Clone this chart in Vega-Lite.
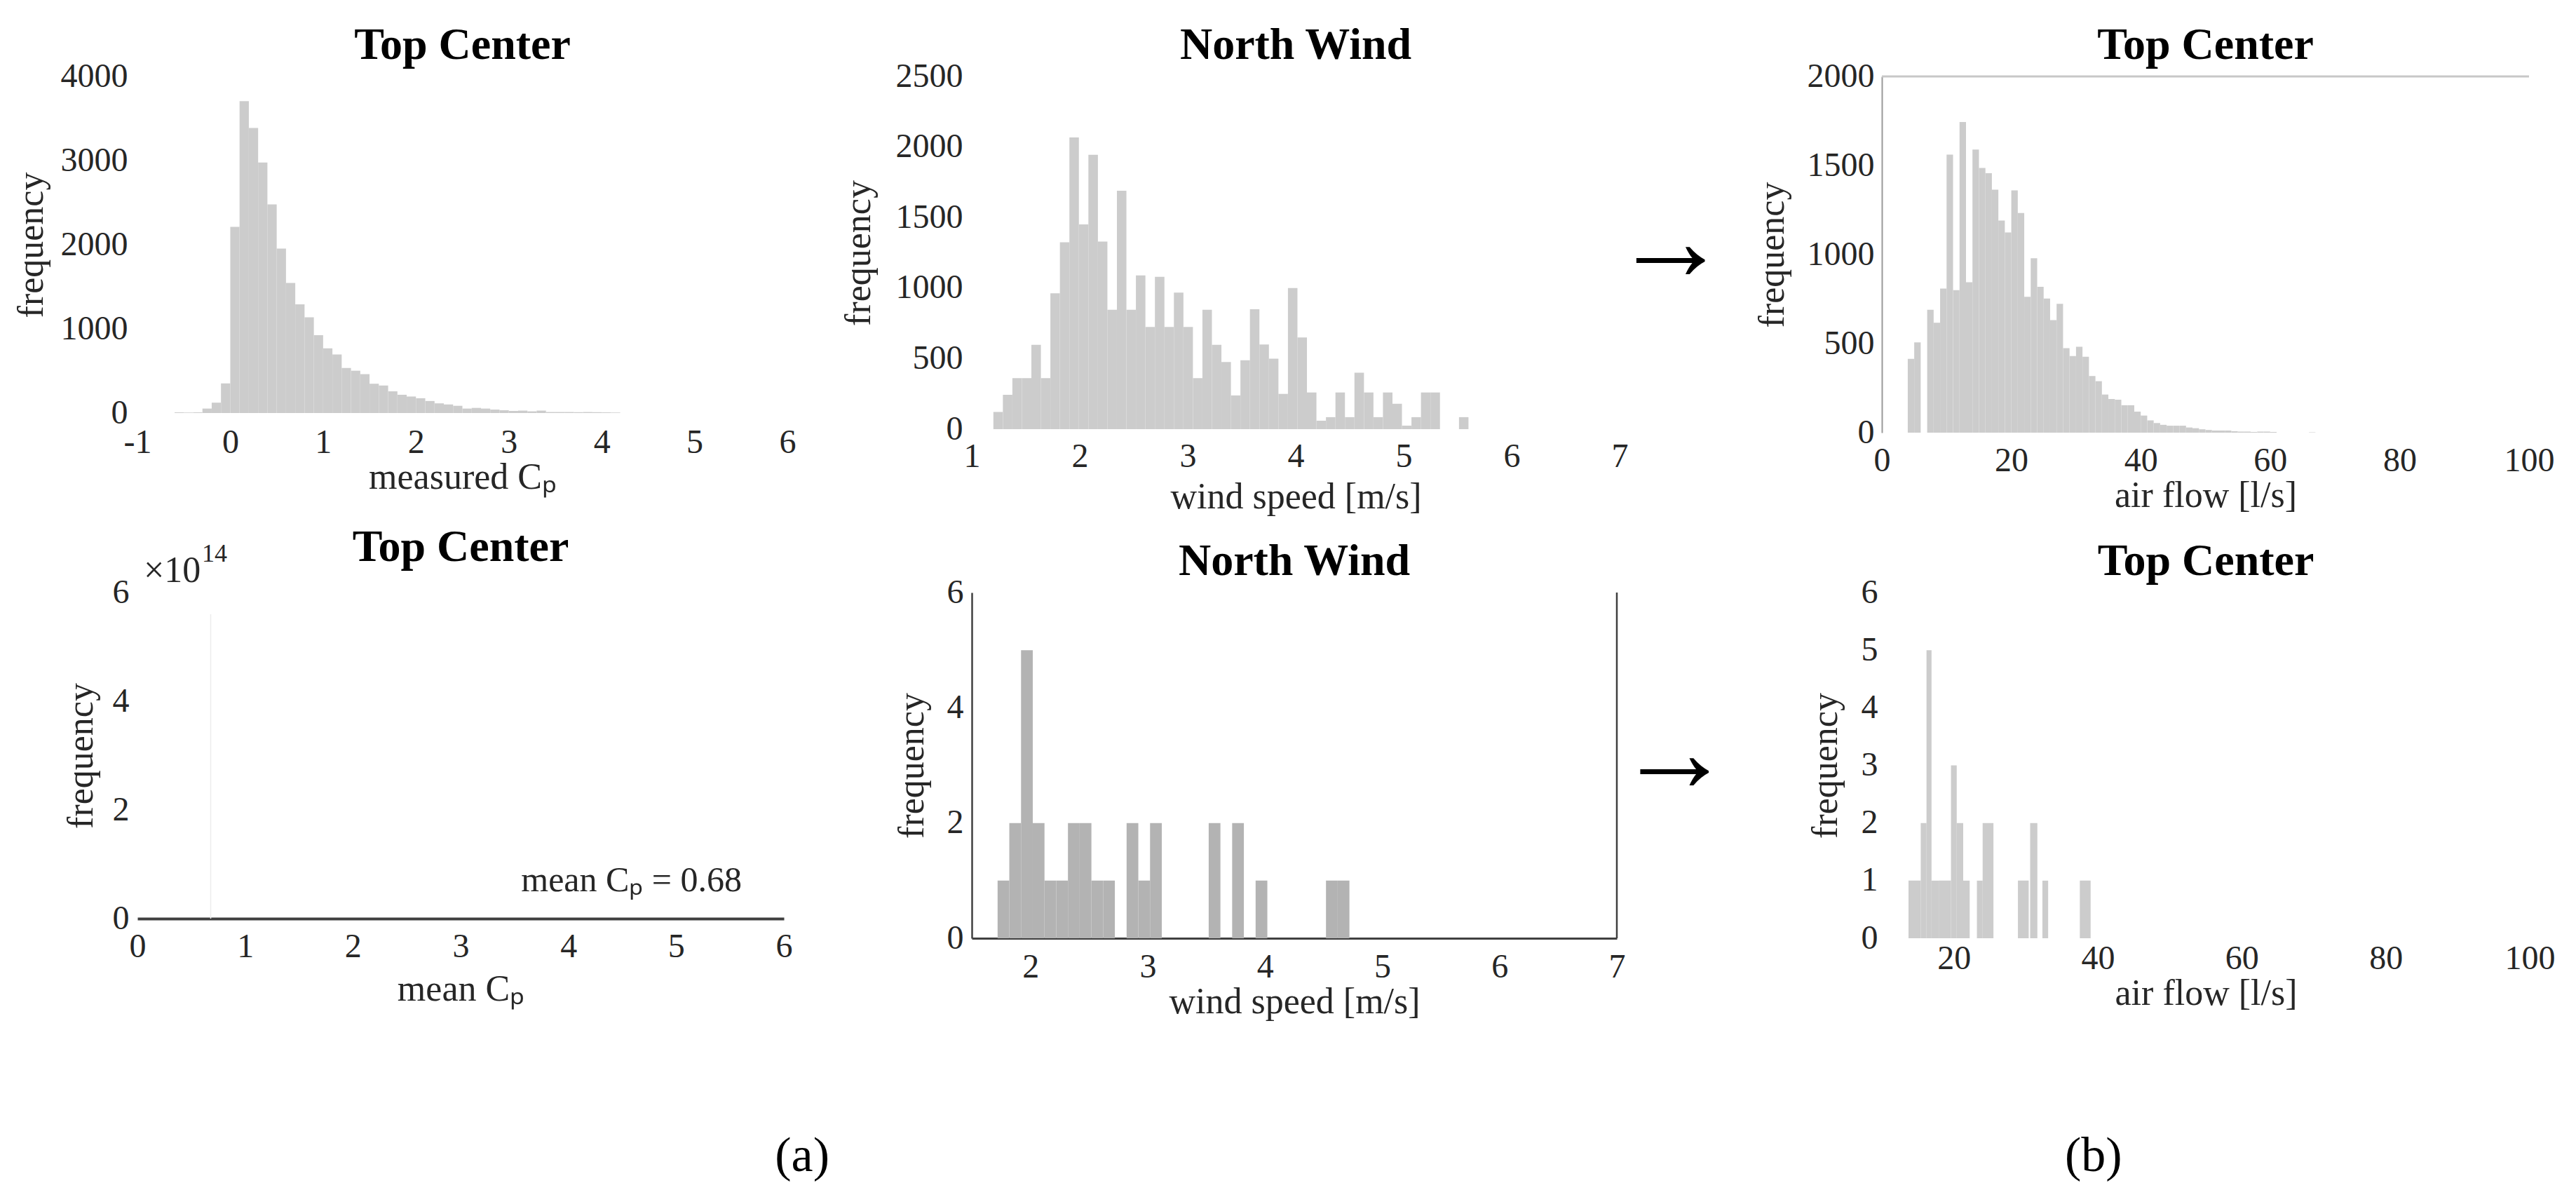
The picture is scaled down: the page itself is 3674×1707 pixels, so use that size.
{
  "$schema": "https://vega.github.io/schema/vega-lite/v6.json",
  "background": "white",
  "padding": {"left": 18, "top": 33, "right": 0, "bottom": 0},
  "datasets": {
    "cp": [
      {"bin_start": -0.6, "bin_end": -0.5, "count": 8},
      {"bin_start": -0.5, "bin_end": -0.4, "count": 6},
      {"bin_start": -0.4, "bin_end": -0.3, "count": 8},
      {"bin_start": -0.3, "bin_end": -0.2, "count": 53},
      {"bin_start": -0.2, "bin_end": -0.1, "count": 123},
      {"bin_start": -0.1, "bin_end": 0.0, "count": 352},
      {"bin_start": 0.0, "bin_end": 0.1, "count": 2213},
      {"bin_start": 0.1, "bin_end": 0.2, "count": 3706},
      {"bin_start": 0.2, "bin_end": 0.3, "count": 3387},
      {"bin_start": 0.3, "bin_end": 0.4, "count": 2978},
      {"bin_start": 0.4, "bin_end": 0.5, "count": 2479},
      {"bin_start": 0.5, "bin_end": 0.6, "count": 1955},
      {"bin_start": 0.6, "bin_end": 0.7, "count": 1546},
      {"bin_start": 0.7, "bin_end": 0.8, "count": 1292},
      {"bin_start": 0.8, "bin_end": 0.9, "count": 1137},
      {"bin_start": 0.9, "bin_end": 1.0, "count": 924},
      {"bin_start": 1.0, "bin_end": 1.1, "count": 769},
      {"bin_start": 1.1, "bin_end": 1.2, "count": 695},
      {"bin_start": 1.2, "bin_end": 1.3, "count": 536},
      {"bin_start": 1.3, "bin_end": 1.4, "count": 503},
      {"bin_start": 1.4, "bin_end": 1.5, "count": 462},
      {"bin_start": 1.5, "bin_end": 1.6, "count": 348},
      {"bin_start": 1.6, "bin_end": 1.7, "count": 327},
      {"bin_start": 1.7, "bin_end": 1.8, "count": 258},
      {"bin_start": 1.8, "bin_end": 1.9, "count": 217},
      {"bin_start": 1.9, "bin_end": 2.0, "count": 196},
      {"bin_start": 2.0, "bin_end": 2.1, "count": 176},
      {"bin_start": 2.1, "bin_end": 2.2, "count": 143},
      {"bin_start": 2.2, "bin_end": 2.3, "count": 115},
      {"bin_start": 2.3, "bin_end": 2.4, "count": 102},
      {"bin_start": 2.4, "bin_end": 2.5, "count": 86},
      {"bin_start": 2.5, "bin_end": 2.6, "count": 53},
      {"bin_start": 2.6, "bin_end": 2.7, "count": 61},
      {"bin_start": 2.7, "bin_end": 2.8, "count": 53},
      {"bin_start": 2.8, "bin_end": 2.9, "count": 41},
      {"bin_start": 2.9, "bin_end": 3.0, "count": 33},
      {"bin_start": 3.0, "bin_end": 3.1, "count": 25},
      {"bin_start": 3.1, "bin_end": 3.2, "count": 29},
      {"bin_start": 3.2, "bin_end": 3.3, "count": 20},
      {"bin_start": 3.3, "bin_end": 3.4, "count": 29},
      {"bin_start": 3.4, "bin_end": 3.5, "count": 12},
      {"bin_start": 3.5, "bin_end": 3.6, "count": 12},
      {"bin_start": 3.6, "bin_end": 3.7, "count": 12},
      {"bin_start": 3.7, "bin_end": 3.8, "count": 10},
      {"bin_start": 3.8, "bin_end": 3.9, "count": 12},
      {"bin_start": 3.9, "bin_end": 4.0, "count": 10},
      {"bin_start": 4.0, "bin_end": 4.1, "count": 8},
      {"bin_start": 4.1, "bin_end": 4.2, "count": 6}
    ],
    "wind": [
      {"bin_start": 1.200, "bin_end": 1.288, "count": 122},
      {"bin_start": 1.288, "bin_end": 1.376, "count": 244},
      {"bin_start": 1.376, "bin_end": 1.464, "count": 361},
      {"bin_start": 1.464, "bin_end": 1.552, "count": 361},
      {"bin_start": 1.552, "bin_end": 1.640, "count": 598},
      {"bin_start": 1.640, "bin_end": 1.728, "count": 361},
      {"bin_start": 1.728, "bin_end": 1.816, "count": 963},
      {"bin_start": 1.816, "bin_end": 1.904, "count": 1324},
      {"bin_start": 1.904, "bin_end": 1.992, "count": 2068},
      {"bin_start": 1.992, "bin_end": 2.080, "count": 1451},
      {"bin_start": 2.080, "bin_end": 2.168, "count": 1944},
      {"bin_start": 2.168, "bin_end": 2.256, "count": 1329},
      {"bin_start": 2.256, "bin_end": 2.344, "count": 846},
      {"bin_start": 2.344, "bin_end": 2.432, "count": 1690},
      {"bin_start": 2.432, "bin_end": 2.520, "count": 846},
      {"bin_start": 2.520, "bin_end": 2.608, "count": 1090},
      {"bin_start": 2.608, "bin_end": 2.696, "count": 724},
      {"bin_start": 2.696, "bin_end": 2.784, "count": 1080},
      {"bin_start": 2.784, "bin_end": 2.872, "count": 724},
      {"bin_start": 2.872, "bin_end": 2.960, "count": 968},
      {"bin_start": 2.960, "bin_end": 3.048, "count": 724},
      {"bin_start": 3.048, "bin_end": 3.136, "count": 361},
      {"bin_start": 3.136, "bin_end": 3.224, "count": 846},
      {"bin_start": 3.224, "bin_end": 3.312, "count": 598},
      {"bin_start": 3.312, "bin_end": 3.400, "count": 476},
      {"bin_start": 3.400, "bin_end": 3.488, "count": 239},
      {"bin_start": 3.488, "bin_end": 3.576, "count": 488},
      {"bin_start": 3.576, "bin_end": 3.664, "count": 850},
      {"bin_start": 3.664, "bin_end": 3.752, "count": 600},
      {"bin_start": 3.752, "bin_end": 3.840, "count": 500},
      {"bin_start": 3.840, "bin_end": 3.928, "count": 250},
      {"bin_start": 3.928, "bin_end": 4.016, "count": 1000},
      {"bin_start": 4.016, "bin_end": 4.104, "count": 650},
      {"bin_start": 4.104, "bin_end": 4.192, "count": 260},
      {"bin_start": 4.192, "bin_end": 4.280, "count": 60},
      {"bin_start": 4.280, "bin_end": 4.368, "count": 85},
      {"bin_start": 4.368, "bin_end": 4.456, "count": 260},
      {"bin_start": 4.456, "bin_end": 4.544, "count": 85},
      {"bin_start": 4.544, "bin_end": 4.632, "count": 400},
      {"bin_start": 4.632, "bin_end": 4.720, "count": 260},
      {"bin_start": 4.720, "bin_end": 4.808, "count": 85},
      {"bin_start": 4.808, "bin_end": 4.896, "count": 260},
      {"bin_start": 4.896, "bin_end": 4.984, "count": 180},
      {"bin_start": 4.984, "bin_end": 5.072, "count": 25},
      {"bin_start": 5.072, "bin_end": 5.160, "count": 85},
      {"bin_start": 5.160, "bin_end": 5.248, "count": 260},
      {"bin_start": 5.248, "bin_end": 5.336, "count": 260},
      {"bin_start": 5.512, "bin_end": 5.600, "count": 85}
    ],
    "airflow": [
      {"bin_start": 4, "bin_end": 5, "count": 414},
      {"bin_start": 5, "bin_end": 6, "count": 507},
      {"bin_start": 7, "bin_end": 8, "count": 690},
      {"bin_start": 8, "bin_end": 9, "count": 617},
      {"bin_start": 9, "bin_end": 10, "count": 809},
      {"bin_start": 10, "bin_end": 11, "count": 1561},
      {"bin_start": 11, "bin_end": 12, "count": 800},
      {"bin_start": 12, "bin_end": 13, "count": 1744},
      {"bin_start": 13, "bin_end": 14, "count": 844},
      {"bin_start": 14, "bin_end": 15, "count": 1590},
      {"bin_start": 15, "bin_end": 16, "count": 1486},
      {"bin_start": 16, "bin_end": 17, "count": 1457},
      {"bin_start": 17, "bin_end": 18, "count": 1364},
      {"bin_start": 18, "bin_end": 19, "count": 1191},
      {"bin_start": 19, "bin_end": 20, "count": 1124},
      {"bin_start": 20, "bin_end": 21, "count": 1360},
      {"bin_start": 21, "bin_end": 22, "count": 1233},
      {"bin_start": 22, "bin_end": 23, "count": 763},
      {"bin_start": 23, "bin_end": 24, "count": 979},
      {"bin_start": 24, "bin_end": 25, "count": 819},
      {"bin_start": 25, "bin_end": 26, "count": 753},
      {"bin_start": 26, "bin_end": 27, "count": 632},
      {"bin_start": 27, "bin_end": 28, "count": 723},
      {"bin_start": 28, "bin_end": 29, "count": 474},
      {"bin_start": 29, "bin_end": 30, "count": 430},
      {"bin_start": 30, "bin_end": 31, "count": 482},
      {"bin_start": 31, "bin_end": 32, "count": 426},
      {"bin_start": 32, "bin_end": 33, "count": 318},
      {"bin_start": 33, "bin_end": 34, "count": 289},
      {"bin_start": 34, "bin_end": 35, "count": 214},
      {"bin_start": 35, "bin_end": 36, "count": 189},
      {"bin_start": 36, "bin_end": 37, "count": 185},
      {"bin_start": 37, "bin_end": 38, "count": 154},
      {"bin_start": 38, "bin_end": 39, "count": 154},
      {"bin_start": 39, "bin_end": 40, "count": 118},
      {"bin_start": 40, "bin_end": 41, "count": 96},
      {"bin_start": 41, "bin_end": 42, "count": 69},
      {"bin_start": 42, "bin_end": 43, "count": 54},
      {"bin_start": 43, "bin_end": 44, "count": 44},
      {"bin_start": 44, "bin_end": 45, "count": 39},
      {"bin_start": 45, "bin_end": 46, "count": 39},
      {"bin_start": 46, "bin_end": 47, "count": 39},
      {"bin_start": 47, "bin_end": 48, "count": 29},
      {"bin_start": 48, "bin_end": 49, "count": 25},
      {"bin_start": 49, "bin_end": 50, "count": 19},
      {"bin_start": 50, "bin_end": 51, "count": 15},
      {"bin_start": 51, "bin_end": 52, "count": 12},
      {"bin_start": 52, "bin_end": 53, "count": 12},
      {"bin_start": 53, "bin_end": 54, "count": 12},
      {"bin_start": 54, "bin_end": 55, "count": 8},
      {"bin_start": 55, "bin_end": 56, "count": 6},
      {"bin_start": 56, "bin_end": 57, "count": 6},
      {"bin_start": 57, "bin_end": 58, "count": 4},
      {"bin_start": 58, "bin_end": 59, "count": 6},
      {"bin_start": 59, "bin_end": 60, "count": 6},
      {"bin_start": 60, "bin_end": 61, "count": 4},
      {"bin_start": 66, "bin_end": 67, "count": 2}
    ],
    "meancp": [
      {"bin_start": 0.675, "bin_end": 0.685, "count": 560000000000000}
    ],
    "wind_sub": [
      {"bin_start": 1.72, "bin_end": 1.82, "count": 1},
      {"bin_start": 1.82, "bin_end": 1.92, "count": 2},
      {"bin_start": 1.92, "bin_end": 2.02, "count": 5},
      {"bin_start": 2.02, "bin_end": 2.12, "count": 2},
      {"bin_start": 2.12, "bin_end": 2.22, "count": 1},
      {"bin_start": 2.22, "bin_end": 2.32, "count": 1},
      {"bin_start": 2.32, "bin_end": 2.42, "count": 2},
      {"bin_start": 2.42, "bin_end": 2.52, "count": 2},
      {"bin_start": 2.52, "bin_end": 2.62, "count": 1},
      {"bin_start": 2.62, "bin_end": 2.72, "count": 1},
      {"bin_start": 2.82, "bin_end": 2.92, "count": 2},
      {"bin_start": 2.92, "bin_end": 3.02, "count": 1},
      {"bin_start": 3.02, "bin_end": 3.12, "count": 2},
      {"bin_start": 3.52, "bin_end": 3.62, "count": 2},
      {"bin_start": 3.72, "bin_end": 3.82, "count": 2},
      {"bin_start": 3.92, "bin_end": 4.02, "count": 1},
      {"bin_start": 4.52, "bin_end": 4.62, "count": 1},
      {"bin_start": 4.62, "bin_end": 4.72, "count": 1}
    ],
    "airflow_sub": [
      {"bin_start": 13.7, "bin_end": 15.4, "count": 1},
      {"bin_start": 15.4, "bin_end": 16.2, "count": 2},
      {"bin_start": 16.2, "bin_end": 16.9, "count": 5},
      {"bin_start": 16.9, "bin_end": 17.9, "count": 1},
      {"bin_start": 17.9, "bin_end": 19.6, "count": 1},
      {"bin_start": 19.6, "bin_end": 20.4, "count": 3},
      {"bin_start": 20.4, "bin_end": 21.3, "count": 2},
      {"bin_start": 21.3, "bin_end": 22.2, "count": 1},
      {"bin_start": 23.2, "bin_end": 24.0, "count": 1},
      {"bin_start": 24.0, "bin_end": 25.5, "count": 2},
      {"bin_start": 28.9, "bin_end": 30.4, "count": 1},
      {"bin_start": 30.6, "bin_end": 31.6, "count": 2},
      {"bin_start": 32.3, "bin_end": 33.1, "count": 1},
      {"bin_start": 37.5, "bin_end": 39.0, "count": 1}
    ]
  },
  "columns": 5,
  "spacing": {"row": 228, "column": 0},
  "bounds": "flush",
  "concat": [
    {
      "width": 927,
      "height": 480,
      "title": "Top Center",
      "data": {"name": "cp"},
      "mark": {"type": "bar", "color": "#cccccc"},
      "encoding": {
        "x": {"field": "bin_start", "type": "quantitative", "scale": {"domain": [-1, 6], "nice": false, "zero": false},
              "axis": {"title": "measured Cₚ", "values": [-1, 0, 1, 2, 3, 4, 5, 6], "labelExpr": "'' + datum.value", "labelPadding": 18, "titlePadding": 0}},
        "x2": {"field": "bin_end"},
        "y": {"field": "count", "type": "quantitative", "scale": {"domain": [0, 4000], "nice": false},
              "axis": {"title": "frequency", "values": [0, 1000, 2000, 3000, 4000], "labelExpr": "'' + datum.value", "labelPadding": 14, "titlePadding": 15}},
        "y2": {"datum": 0}
      }
    },
    {
      "width": 263,
      "height": 10,
      "data": {"values": [{}]},
      "mark": {"type": "text", "text": ""}
    },
    {
      "width": 924,
      "height": 503,
      "title": "North Wind",
      "layer": [
        {
          "data": {"name": "wind"},
          "mark": {"type": "bar", "color": "#cccccc"},
          "encoding": {
            "x": {"field": "bin_start", "type": "quantitative", "scale": {"domain": [1, 7], "nice": false, "zero": false},
                  "axis": {"title": "wind speed [m/s]", "values": [1, 2, 3, 4, 5, 6, 7], "labelExpr": "'' + datum.value", "labelPadding": 15, "titlePadding": 8}},
            "x2": {"field": "bin_end"},
            "y": {"field": "count", "type": "quantitative", "scale": {"domain": [0, 2500], "nice": false},
                  "axis": {"title": "frequency", "values": [0, 500, 1000, 1500, 2000, 2500], "labelExpr": "'' + datum.value", "labelPadding": 13, "titlePadding": 26}},
            "y2": {"datum": 0}
          }
        },
        {
          "data": {"values": [{}]},
          "mark": {"type": "text", "text": "→", "font": "Liberation Serif", "fontSize": 165, "color": "#000000"},
          "encoding": {"x": {"datum": 7.47}, "y": {"datum": 1307}}
        }
      ]
    },
    {
      "width": 374,
      "height": 10,
      "data": {"values": [{}]},
      "mark": {"type": "text", "text": ""}
    },
    {
      "width": 923,
      "height": 508,
      "title": "Top Center",
      "layer": [
        {
          "data": {"name": "airflow"},
          "mark": {"type": "bar", "color": "#cccccc"},
          "encoding": {
            "x": {"field": "bin_start", "type": "quantitative", "scale": {"domain": [0, 100], "nice": false},
                  "axis": {"title": "air flow [l/s]", "values": [0, 20, 40, 60, 80, 100], "labelExpr": "'' + datum.value", "labelPadding": 16, "titlePadding": 0}},
            "x2": {"field": "bin_end"},
            "y": {"field": "count", "type": "quantitative", "scale": {"domain": [0, 2000], "nice": false},
                  "axis": {"title": "frequency", "values": [0, 500, 1000, 1500, 2000], "labelExpr": "'' + datum.value", "labelPadding": 11, "titlePadding": 23, "domain": true, "domainColor": "#9a9a9a", "domainWidth": 2}},
            "y2": {"datum": 0}
          }
        },
        {
          "data": {"values": [{}]},
          "mark": {"type": "rule", "color": "#c8c8c8", "strokeWidth": 3},
          "encoding": {"x": {"datum": 0}, "x2": {"datum": 100}, "y": {"datum": 2000}}
        }
      ]
    },
    {
      "width": 922,
      "height": 465,
      "title": {"text": "Top Center", "offset": -41},
      "layer": [
        {
          "data": {"name": "meancp"},
          "mark": {"type": "bar", "color": "#ececec"},
          "encoding": {
            "x": {"field": "bin_start", "type": "quantitative", "scale": {"domain": [0, 6], "nice": false},
                  "axis": {"title": "mean Cₚ", "values": [0, 1, 2, 3, 4, 5, 6], "labelExpr": "'' + datum.value", "labelPadding": 16, "titlePadding": 11, "domain": true, "domainColor": "#404040", "domainWidth": 4}},
            "x2": {"field": "bin_end"},
            "y": {"field": "count", "type": "quantitative", "scale": {"domain": [0, 600000000000000], "nice": false},
                  "axis": {"title": "frequency", "values": [0, 200000000000000, 400000000000000, 600000000000000], "labelExpr": "'' + (datum.value / 100000000000000)", "labelPadding": 12, "titlePadding": 18}},
            "y2": {"datum": 0}
          }
        },
        {
          "data": {"values": [{}]},
          "mark": {"type": "text", "text": "mean Cₚ = 0.68", "font": "Liberation Serif", "fontSize": 50, "align": "right", "baseline": "middle", "color": "#262626"},
          "encoding": {"x": {"datum": 5.61}, "y": {"datum": 70000000000000}}
        },
        {
          "data": {"values": [{}]},
          "mark": {"type": "text", "text": "×10", "font": "Liberation Serif", "fontSize": 52, "align": "left", "baseline": "alphabetic", "dx": 9, "dy": -15, "color": "#262626"},
          "encoding": {"x": {"datum": 0}, "y": {"datum": 600000000000000}}
        },
        {
          "data": {"values": [{}]},
          "mark": {"type": "text", "text": "14", "font": "Liberation Serif", "fontSize": 36, "align": "left", "baseline": "alphabetic", "dx": 92, "dy": -44, "color": "#262626"},
          "encoding": {"x": {"datum": 0}, "y": {"datum": 600000000000000}}
        },
        {
          "data": {"values": [{}]},
          "mark": {"type": "text", "text": "(a)", "font": "Liberation Serif", "fontSize": 70, "align": "center", "baseline": "middle", "color": "#000000"},
          "encoding": {"x": {"datum": 6.17}, "y": {"datum": -437000000000000}}
        }
      ]
    },
    {
      "width": 263,
      "height": 10,
      "data": {"values": [{}]},
      "mark": {"type": "text", "text": ""}
    },
    {
      "width": 920,
      "height": 493,
      "title": "North Wind",
      "layer": [
        {
          "data": {"name": "wind_sub"},
          "mark": {"type": "bar", "color": "#b3b3b3"},
          "encoding": {
            "x": {"field": "bin_start", "type": "quantitative", "scale": {"domain": [1.5, 7], "nice": false, "zero": false},
                  "axis": {"title": "wind speed [m/s]", "values": [2, 3, 4, 5, 6, 7], "labelExpr": "'' + datum.value", "labelPadding": 17, "titlePadding": 0, "domain": true, "domainColor": "#404040", "domainWidth": 3}},
            "x2": {"field": "bin_end"},
            "y": {"field": "count", "type": "quantitative", "scale": {"domain": [0, 6], "nice": false},
                  "axis": {"title": "frequency", "values": [0, 2, 4, 6], "labelExpr": "'' + datum.value", "labelPadding": 12, "titlePadding": 23, "domain": true, "domainColor": "#404040", "domainWidth": 2.5}},
            "y2": {"datum": 0}
          }
        },
        {
          "data": {"values": [{}]},
          "mark": {"type": "rule", "color": "#404040", "strokeWidth": 2.5},
          "encoding": {"x": {"datum": 7}, "y": {"datum": 0}, "y2": {"datum": 6}}
        },
        {
          "data": {"values": [{}]},
          "mark": {"type": "text", "text": "→", "font": "Liberation Serif", "fontSize": 165, "color": "#000000"},
          "encoding": {"x": {"datum": 7.49}, "y": {"datum": 3.17}}
        }
      ]
    },
    {
      "width": 374,
      "height": 10,
      "data": {"values": [{}]},
      "mark": {"type": "text", "text": ""}
    },
    {
      "width": 924,
      "height": 493,
      "title": "Top Center",
      "layer": [
        {
          "data": {"name": "airflow_sub"},
          "mark": {"type": "bar", "color": "#cccccc"},
          "encoding": {
            "x": {"field": "bin_start", "type": "quantitative", "scale": {"domain": [10, 100], "nice": false, "zero": false},
                  "axis": {"title": "air flow [l/s]", "values": [20, 40, 60, 80, 100], "labelExpr": "'' + datum.value", "labelPadding": 5, "titlePadding": 0}},
            "x2": {"field": "bin_end"},
            "y": {"field": "count", "type": "quantitative", "scale": {"domain": [0, 6], "nice": false},
                  "axis": {"title": "frequency", "values": [0, 1, 2, 3, 4, 5, 6], "labelExpr": "'' + datum.value", "labelPadding": 6, "titlePadding": 24}},
            "y2": {"datum": 0}
          }
        },
        {
          "data": {"values": [{}]},
          "mark": {"type": "text", "text": "(b)", "font": "Liberation Serif", "fontSize": 70, "align": "center", "baseline": "middle", "color": "#000000"},
          "encoding": {"x": {"datum": 39.4}, "y": {"datum": -3.785}}
        }
      ]
    }
  ],
  "config": {
    "font": "Liberation Serif",
    "view": {"stroke": null},
    "axis": {
      "labelFont": "Liberation Serif",
      "labelFontSize": 48,
      "labelColor": "#262626",
      "titleFont": "Liberation Serif",
      "titleFontSize": 52,
      "titleFontWeight": "normal",
      "titleColor": "#262626",
      "ticks": false,
      "domain": false,
      "grid": false,
      "labelFlush": false,
      "labelOverlap": false
    },
    "title": {
      "font": "Liberation Serif",
      "fontSize": 64,
      "fontWeight": "bold",
      "color": "#000000",
      "offset": -12,
      "anchor": "middle"
    }
  }
}
